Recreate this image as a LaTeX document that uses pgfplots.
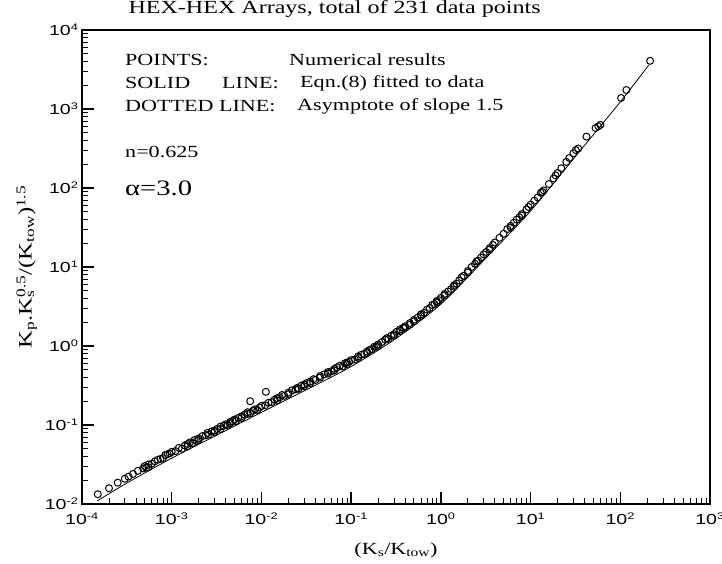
\documentclass[border=0pt]{standalone}
\usepackage{fontspec}
\setmainfont{Liberation Serif}[FakeStretch=1.3]
\setsansfont{Liberation Sans}[FakeStretch=1.35]
\usepackage{pgfplots}
\pgfplotsset{compat=1.18}

\newcommand{\fs}[1]{\fontsize{#1}{#1}\selectfont}

\begin{document}
\begin{tikzpicture}
\useasboundingbox (-82pt,-60pt) rectangle (640pt,504pt);
\begin{axis}[
  at={(0,0)}, anchor=south west,
  scale only axis, width=628pt, height=474pt,
  xmode=log, ymode=log,
  xmin=1e-4, xmax=1e3, ymin=1e-2, ymax=1e4,
  axis line style={line width=1.6pt},
  tick align=inside, xtick pos=left, ytick pos=left,
  major tick length=12pt, minor tick length=6pt,
  every major tick/.style={line width=1.5pt, black},
  every minor tick/.style={line width=0.8pt, black},
  log number format basis/.code 2 args={\pgfmathtruncatemacro\ex{#2}10\textsuperscript{\fs{9.5}\ex}},
  ticklabel style={font=\sffamily\fs{14.5}},
  xticklabel style={yshift=-5pt},
  title={HEX-HEX Arrays, total of 231 data points},
  title style={font=\fs{18.5}, at={(axis description cs:0.0685,1)}, anchor=west, yshift=15pt},
  xlabel={(K\textsubscript{s}/K\textsubscript{tow})},
  xlabel style={font=\fs{17}, at={(axis description cs:0.5,-0.097)}, anchor=center},
  ylabel={K\textsubscript{p}.K\rlap{\textsubscript{s}}\textsuperscript{0.5}/(K\textsubscript{tow})\textsuperscript{1.5}},
  ylabel style={font=\fs{19}, at={(axis description cs:-0.088,0.5)}, anchor=center},
]
% numerical results
\addplot[only marks, mark=o, mark size=3.5pt, mark options={line width=1pt, black}] coordinates {
(1.5e-4,0.0133) (2.0e-4,0.01585) (2.5e-4,0.01862) (3.0e-4,0.0209) (3.3e-4,0.0222)
(3.7e-4,0.024) (4.2e-4,0.0263) (4.8e-4,0.0282) (5.0e-4,0.0302) (5.2e-4,0.0288)
(5.5e-4,0.0316) (5.5e-4,0.0292) (6.0e-4,0.0324) (6.5e-4,0.0347) (7.0e-4,0.0363)
(7.5e-4,0.0372) (8.0e-4,0.038) (8.5e-4,0.0417) (9.0e-4,0.0427) (9.5e-4,0.0437)
(1.0e-3,0.0457) (1.1e-3,0.0468) (1.2e-3,0.0513) (1.3e-3,0.0501) (1.4e-3,0.055)
(1.5e-3,0.0575) (1.5e-3,0.0537) (1.6e-3,0.0603) (1.7e-3,0.0589) (1.8e-3,0.0646)
(1.9e-3,0.0631) (2.0e-3,0.0676) (2.0e-3,0.0646) (2.2e-3,0.0724) (2.4e-3,0.0741)
(2.5e-3,0.0794) (2.6e-3,0.0759) (2.8e-3,0.0832) (3.0e-3,0.0851) (3.0e-3,0.0813)
(3.2e-3,0.0891) (3.5e-3,0.0955) (3.5e-3,0.0891) (3.8e-3,0.0977) (4.0e-3,0.102)
(4.2e-3,0.100) (4.5e-3,0.110) (4.5e-3,0.105) (4.8e-3,0.112) (5.0e-3,0.117)
(5.2e-3,0.112) (5.5e-3,0.123) (6.0e-3,0.129) (6.0e-3,0.123) (6.5e-3,0.135)
(7.0e-3,0.138) (7.0e-3,0.145) (7.5e-3,0.141) (7.5e-3,0.200) (8.0e-3,0.151)
(8.5e-3,0.158) (9.0e-3,0.155) (9.5e-3,0.166)
(1.0e-2,0.174) (1.1e-2,0.178) (1.12e-2,0.263) (1.2e-2,0.191) (1.3e-2,0.195)
(1.4e-2,0.209) (1.5e-2,0.219) (1.5e-2,0.204) (1.6e-2,0.224) (1.7e-2,0.240)
(1.8e-2,0.234) (2.0e-2,0.257) (2.0e-2,0.245) (2.2e-2,0.275) (2.4e-2,0.282)
(2.5e-2,0.295) (2.6e-2,0.288) (2.8e-2,0.316) (3.0e-2,0.324) (3.0e-2,0.309)
(3.2e-2,0.339) (3.5e-2,0.355) (3.5e-2,0.339) (3.8e-2,0.380) (4.0e-2,0.372)
(4.5e-2,0.417) (4.5e-2,0.398) (5.0e-2,0.437) (5.5e-2,0.468) (5.5e-2,0.447)
(6.0e-2,0.479) (6.5e-2,0.513) (6.5e-2,0.490) (7.0e-2,0.537) (7.5e-2,0.562)
(8.0e-2,0.550) (8.5e-2,0.603) (9.0e-2,0.617) (9.0e-2,0.589) (9.5e-2,0.631)
(0.10,0.661) (0.11,0.676) (0.12,0.741) (0.12,0.708) (0.13,0.776)
(0.14,0.794) (0.15,0.851) (0.15,0.813) (0.16,0.891) (0.17,0.912)
(0.18,0.977) (0.19,0.977) (0.20,1.047) (0.20,1.000) (0.22,1.122)
(0.24,1.202) (0.25,1.259) (0.26,1.230) (0.28,1.349) (0.30,1.413)
(0.30,1.349) (0.32,1.514) (0.35,1.549) (0.35,1.622) (0.38,1.698)
(0.40,1.778) (0.40,1.698) (0.45,1.950) (0.45,1.862) (0.50,2.138)
(0.50,2.042) (0.55,2.291) (0.60,2.512) (0.60,2.399) (0.65,2.630)
(0.70,2.884) (0.75,3.020) (0.80,3.311) (0.85,3.388) (0.90,3.715)
(0.90,3.548) (0.95,3.802)
(1.0,4.074) (1.1,4.365) (1.1,4.571) (1.2,4.898) (1.3,5.248)
(1.4,5.888) (1.4,5.623) (1.5,6.166) (1.6,6.761) (1.7,7.413)
(1.8,7.762) (2.0,8.913) (2.0,8.511) (2.2,10.0) (2.4,10.96)
(2.5,11.75) (2.6,12.02) (2.8,13.18) (3.0,14.45) (3.2,15.49)
(3.5,17.38) (3.5,16.60) (3.8,19.05) (4.0,20.42) (4.5,23.44)
(5.0,26.30) (5.5,30.20) (6.0,33.11) (6.0,31.62) (6.5,36.31)
(7.0,39.81) (7.5,42.66) (8.0,46.77) (8.0,44.67) (9.0,53.70)
(9.5,57.54)
(10,61.66) (11,69.18) (12,75.86) (13,87.10) (13.5,89.13)
(14,93.33) (16,112.2) (18,131.8) (19,144.5) (20,154.9)
(22,177.8) (25,213.8) (27,239.9) (30,275.4) (32,302.0)
(34,316.2) (42,446.7) (53,575.4) (57,602.6) (60,631.0)
(102,1380) (117,1738) (215,4074)
};
% Eqn.(8) fitted to data
\addplot[black, line width=0.8pt, smooth] coordinates {
(1.48e-4,0.01096) (3.16e-4,0.0184) (1e-3,0.0380) (3.16e-3,0.0741)
(1e-2,0.1445) (3.16e-2,0.2786) (0.1,0.5495) (0.316,1.245)
(1,3.388) (3.162,12.88) (10,51.29) (31.62,251.2) (100,1230) (208.9,3631)
};
\end{axis}
\begin{scope}[every node/.style={anchor=west, inner sep=0pt, font=\fs{17}}]
\node at (43pt,444pt) {POINTS:};
\node at (207pt,444pt) {Numerical results};
\node at (43pt,421pt) {SOLID};
\node at (140pt,421pt) {LINE:};
\node at (218pt,421pt) {Eqn.(8) fitted to data};
\node at (43pt,398pt) {DOTTED LINE:};
\node at (215pt,398pt) {Asymptote of slope 1.5};
\node at (43pt,352pt) {n=0.625};
\node[font=\fs{22}] at (43pt,316pt) {α=3.0};
\end{scope}
\end{tikzpicture}
\end{document}
